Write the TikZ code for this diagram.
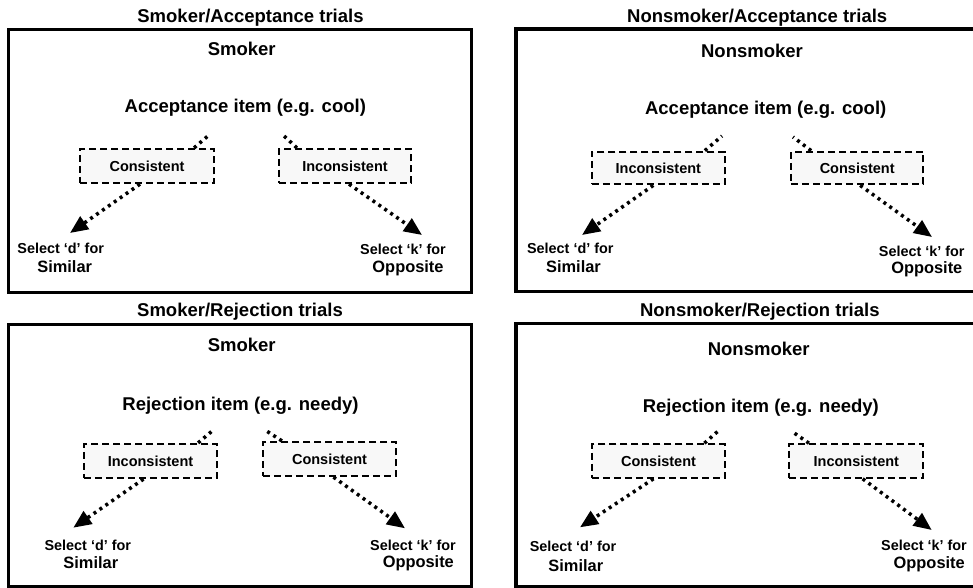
\documentclass[tikz,border=0pt]{standalone}
\usepackage{fontspec}
\setmainfont{Liberation Sans}
\usetikzlibrary{arrows.meta,calc}
\definecolor{boxfill}{RGB}{248,248,248}
\begin{document}
\begin{tikzpicture}[x=1pt,y=-1pt,
  panelbox/.style={line width=3.5pt},
  ttl/.style={font=\fontsize{18.5}{22}\selectfont\bfseries, anchor=base, inner sep=0pt},
  choice/.style={draw, dash pattern=on 7pt off 4pt, line width=2.2pt, fill=boxfill,
     inner sep=0pt, font=\fontsize{14.5}{17}\selectfont\bfseries},
  sel/.style={font=\fontsize{14.4}{17}\selectfont\bfseries, anchor=base, inner sep=0pt},
  resp/.style={font=\fontsize{16.4}{19}\selectfont\bfseries, anchor=base, inner sep=0pt},
  dots/.style={line width=3.5pt, dash pattern=on 3pt off 4.2pt},
  arr/.style={dots, -{Triangle[length=18pt,width=15pt]}}
]
\useasboundingbox (0,0) rectangle (973,588);

% ---------- Panel 1: Smoker / Acceptance ----------
\draw[panelbox] (8.7,29.7) rectangle (471.7,292.7);
\node[ttl] (t1) at (250.5,22.7) {Smoker/Acceptance trials};
\node[ttl] (g1) at (241.7,56) {Smoker};
\node[ttl] (i1) at (245.3,113) {Acceptance item (e.g. cool)};
\node[choice, minimum width=134pt, minimum height=34pt] (a1) at (147,166) {Consistent};
\node[choice, minimum width=132pt, minimum height=34pt] (b1) at (345,166) {Inconsistent};
\coordinate (a1u) at (209,135);
\coordinate (b1u) at (283,135);
\draw[dots] ($(a1.north east)+(-21,0)$) -- (a1u);
\draw[dots] ($(b1.north west)+(19,0)$) -- (b1u);
\coordinate (a1x) at (70,233);
\coordinate (b1x) at (422,235);
\draw[arr] ($(a1.south)+(-7,0)$) -- (a1x);
\draw[arr] ($(b1.south)+(4,0)$) -- (b1x);
\node[sel] (s1) at (60.7,253) {Select ‘d’ for};
\node[resp] (r1) at (64.7,272) {Similar};
\node[sel] (s2) at (403,254) {Select ‘k’ for};
\node[resp] (r2) at (408,272) {Opposite};

% ---------- Panel 2: Nonsmoker / Acceptance ----------
\draw[panelbox] (973,28.8) -- (516,28.8) -- (516,291.3) -- (973,291.3);
\node[ttl] (t2) at (757.2,23) {Nonsmoker/Acceptance trials};
\node[ttl] (g2) at (752,58) {Nonsmoker};
\node[ttl] (i2) at (765.7,115) {Acceptance item (e.g. cool)};
\node[choice, minimum width=133pt, minimum height=32.6pt] (a2) at (658.3,168) {Inconsistent};
\node[choice, minimum width=132pt, minimum height=32.6pt] (b2) at (857.2,168) {Consistent};
\coordinate (a2u) at (722,136);
\coordinate (b2u) at (793,137);
\draw[dots] ($(a2.north east)+(-21,0)$) -- (a2u);
\draw[dots] ($(b2.north west)+(21,0)$) -- (b2u);
\coordinate (a2x) at (582,235);
\coordinate (b2x) at (932,237);
\draw[arr] ($(a2.south)+(-5,0)$) -- (a2x);
\draw[arr] ($(b2.south)+(3,0)$) -- (b2x);
\node[sel] (s3) at (570.3,253) {Select ‘d’ for};
\node[resp] (r3) at (573.5,272) {Similar};
\node[sel] (s4) at (921.7,256) {Select ‘k’ for};
\node[resp] (r4) at (926.8,273) {Opposite};

% ---------- Panel 3: Smoker / Rejection ----------
\draw[panelbox] (8.5,324.5) rectangle (471.7,586.5);
\node[ttl] (t3) at (240,316) {Smoker/Rejection trials};
\node[ttl] (g3) at (241.7,351) {Smoker};
\node[ttl] (i3) at (240.5,410) {Rejection item (e.g. needy)};
\node[choice, minimum width=133pt, minimum height=34pt] (a3) at (150.5,461) {Inconsistent};
\node[choice, minimum width=133pt, minimum height=34pt] (b3) at (329.5,459) {Consistent};
\coordinate (a3u) at (213.3,430);
\coordinate (b3u) at (265,430);
\draw[dots] ($(a3.north east)+(-20,0)$) -- (a3u);
\draw[dots] ($(b3.north west)+(20,0)$) -- (b3u);
\coordinate (a3x) at (73.3,527.7);
\coordinate (b3x) at (405,528.3);
\draw[arr] ($(a3.south)+(-7,0)$) -- (a3x);
\draw[arr] ($(b3.south)+(4,0)$) -- (b3x);
\node[sel] (s5) at (87.8,550) {Select ‘d’ for};
\node[resp] (r5) at (90.8,568) {Similar};
\node[sel] (s6) at (413,550) {Select ‘k’ for};
\node[resp] (r6) at (418.3,567) {Opposite};

% ---------- Panel 4: Nonsmoker / Rejection ----------
\draw[panelbox] (973,323.7) -- (516,323.7) -- (516,586.5) -- (973,586.5);
\node[ttl] (t4) at (759.8,316) {Nonsmoker/Rejection trials};
\node[ttl] (g4) at (758.7,355) {Nonsmoker};
\node[ttl] (i4) at (760.8,412) {Rejection item (e.g. needy)};
\node[choice, minimum width=133pt, minimum height=33.4pt] (a4) at (658.5,461) {Consistent};
\node[choice, minimum width=134pt, minimum height=33.4pt] (b4) at (856.3,461) {Inconsistent};
\coordinate (a4u) at (719.3,430);
\coordinate (b4u) at (792.3,431.7);
\draw[dots] ($(a4.north east)+(-21.7,0)$) -- (a4u);
\draw[dots] ($(b4.north west)+(20.7,0)$) -- (b4u);
\coordinate (a4x) at (580,527.3);
\coordinate (b4x) at (931.7,530);
\draw[arr] ($(a4.south)+(-5,0)$) -- (a4x);
\draw[arr] ($(b4.south)+(6.4,0)$) -- (b4x);
\node[sel] (s7) at (573,551.7) {Select ‘d’ for};
\node[resp] (r7) at (575.8,571) {Similar};
\node[sel] (s8) at (924,550) {Select ‘k’ for};
\node[resp] (r8) at (929.2,568.3) {Opposite};
\end{tikzpicture}
\end{document}
